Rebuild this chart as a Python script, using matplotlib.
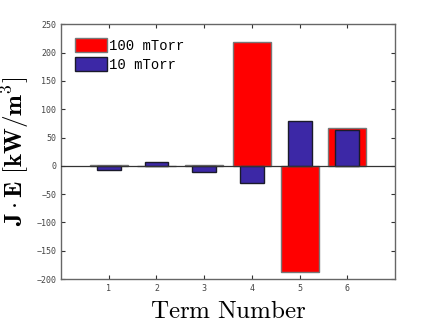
import matplotlib
matplotlib.use("Agg")
import matplotlib.pyplot as plt

terms = [1, 2, 3, 4, 5, 6]
tick_labels = ["1", "2", "3", "4", "5", "6"]
p100 = [0.8, 0.5, 0.8, 219, -187, 67]
p10 = [-7.5, 7.5, -11, -31, 79, 63]
labels = ["100 mTorr", "10 mTorr"]

plt.rcParams['mathtext.fontset'] = 'cm'
fig = plt.figure(figsize=(4.36, 3.28), dpi=100)
ax = fig.add_axes([0.140, 0.149, 0.766, 0.777])

ax.bar(terms, p100, width=0.8, color='#ff0000', edgecolor='#777777', linewidth=1.0, label=labels[0], zorder=2)
ax.bar(terms, p10, width=0.5, color='#3c28a6', edgecolor='#1a1a2a', linewidth=1.0, label=labels[1], zorder=3)
ax.axhline(0, color='#333333', linewidth=0.9, zorder=4)

ax.set_xlim(0, 7)
ax.set_ylim(-200, 250)
ax.set_xticks(terms)
ax.set_xticklabels(tick_labels)
ax.set_yticks(range(-200, 251, 50))
ax.tick_params(direction='in', top=True, right=True, length=3, width=0.8,
               labelsize=6, labelcolor='#444444', color='#333333')
for lab in ax.get_xticklabels() + ax.get_yticklabels():
    lab.set_family('DejaVu Sans Mono')
for s in ax.spines.values():
    s.set_color('#666666')
    s.set_linewidth(1.0)

ax.set_xlabel(r'$\mathrm{Term\ Number}$', fontsize=18, labelpad=4)
ax.set_ylabel(r'$\mathbf{J \cdot E\ [kW/m^3]}$', fontsize=18, labelpad=4)

leg = ax.legend(loc='upper left', frameon=False, prop={'family': 'Liberation Mono', 'size': 10},
                handlelength=2.3, handleheight=1.15, handletextpad=0.15, borderaxespad=0.5,
                labelspacing=0.3, borderpad=0.5)

fig.savefig("out.png", dpi=100)
